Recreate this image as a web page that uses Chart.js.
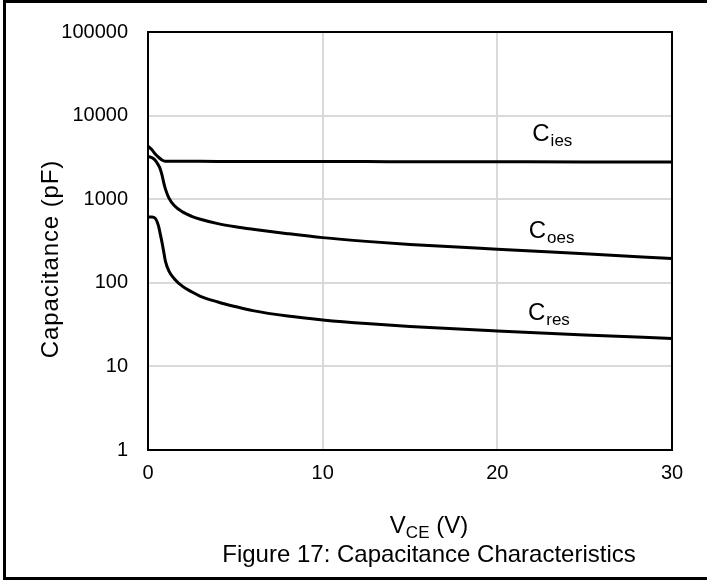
<!DOCTYPE html>
<html>
<head>
<meta charset="utf-8">
<script src="https://cdn.jsdelivr.net/npm/chart.js@4"></script>
<style>
  html, body { margin: 0; padding: 0; background: #fff; }
  #wrap { width: 707px; height: 580px; }
</style>
</head>
<body>
<div id="wrap"><canvas id="capChart" width="707" height="580"></canvas></div>
<script>
// Datos (V_CE en voltios, capacidad en pF)
const vce  = [0, 0.2, 0.4, 0.6, 0.7, 0.8, 0.9, 1.0, 1.2, 1.5, 2, 2.5, 3, 4, 5, 6, 8, 10, 12.5, 15, 20, 25, 30];
const cies = [4300, 3950, 3500, 3180, 3050, 2950, 2880, 2850, 2840, 2840, 2840, 2838, 2836, 2832, 2830, 2828, 2824, 2820, 2815, 2810, 2800, 2790, 2780];
const coes = [3250, 3150, 2950, 2550, 2300, 1950, 1580, 1320, 1030, 840, 700, 625, 575, 510, 468, 437, 387, 347, 313, 288, 252, 222, 195];
const cres = [615, 612, 595, 480, 385, 305, 235, 180, 138, 112, 90, 78, 69, 59, 52, 46.5, 40, 36, 32.5, 30, 26.5, 23.8, 21.6];
const yTicks = [1, 10, 100, 1000, 10000, 100000];
const xTicks = [0, 10, 20, 30];

const FONT = '"Liberation Sans", Arial, sans-serif';

function serie(vals) {
  return vce.map((v, i) => ({ x: v, y: vals[i] }));
}

// Etiquetas de las curvas: posición en unidades del gráfico
const curveLabels = [
  { sub: 'ies', x: 22.0, y: 4970 },
  { sub: 'oes', x: 21.8, y: 343 },
  { sub: 'res', x: 21.75, y: 35.9 }
];

const extras = {
  id: 'extras',
  afterDraw(chart) {
    const ctx = chart.ctx;
    const a = chart.chartArea;
    const xs = chart.scales.x, ys = chart.scales.y;
    ctx.save();
    // marco del área de trazado
    ctx.strokeStyle = '#000';
    ctx.lineWidth = 2;
    ctx.strokeRect(a.left, a.top, a.right - a.left, a.bottom - a.top);

    ctx.fillStyle = '#000';
    ctx.textBaseline = 'alphabetic';
    ctx.textAlign = 'left';

    // C_ies, C_oes, C_res
    curveLabels.forEach(l => {
      const px = xs.getPixelForValue(l.x);
      const py = ys.getPixelForValue(l.y);
      ctx.font = '24px ' + FONT;
      ctx.fillText('C', px, py);
      const w = ctx.measureText('C').width;
      ctx.font = '17px ' + FONT;
      ctx.fillText(l.sub, px + w + 1, py + 5);
    });

    // título eje X: V_CE (V)
    const cx = 429;
    ctx.font = '24px ' + FONT;
    const wV = ctx.measureText('V').width;
    const wRest = ctx.measureText(' (V)').width;
    ctx.font = '17px ' + FONT;
    const wSub = ctx.measureText('CE').width;
    let sx = cx - (wV + wSub + wRest) / 2;
    ctx.font = '24px ' + FONT;
    ctx.fillText('V', sx, 533);
    ctx.font = '17px ' + FONT;
    ctx.fillText('CE', sx + wV, 538);
    ctx.font = '24px ' + FONT;
    ctx.fillText(' (V)', sx + wV + wSub, 533);

    // pie de figura
    ctx.textAlign = 'center';
    ctx.fillText('Figure 17: Capacitance Characteristics', cx, 562);

    // título eje Y
    ctx.translate(58, 259);
    ctx.rotate(-Math.PI / 2);
    ctx.letterSpacing = '0.9px';
    ctx.fillText('Capacitance (pF)', 0, 0);
    ctx.restore();

    // borde exterior
    ctx.save();
    ctx.fillStyle = '#000';
    ctx.fillRect(3, 0, 704, 3);
    ctx.fillRect(3, 0, 3, 580);
    ctx.fillRect(3, 577, 704, 3);
    ctx.restore();
  }
};

new Chart(document.getElementById('capChart').getContext('2d'), {
  type: 'line',
  data: {
    datasets: [
      { label: 'Cies', data: serie(cies) },
      { label: 'Coes', data: serie(coes) },
      { label: 'Cres', data: serie(cres) }
    ].map(d => Object.assign(d, {
      borderColor: '#000',
      borderWidth: 3,
      pointRadius: 0,
      fill: false,
      cubicInterpolationMode: 'monotone'
    }))
  },
  options: {
    responsive: false,
    devicePixelRatio: 1,
    animation: false,
    layout: { padding: { left: 0, top: 32, right: 35, bottom: 0 } },
    plugins: {
      legend: { display: false },
      tooltip: { enabled: false }
    },
    scales: {
      x: {
        type: 'linear',
        min: 0,
        max: 30,
        afterBuildTicks: s => { s.ticks = xTicks.map(v => ({ value: v })); },
        afterFit: s => { s.height = 130; },
        grid: { color: '#d9d9d9', lineWidth: 2, drawTicks: false },
        border: { display: false },
        ticks: { color: '#000', padding: 11, font: { family: FONT, size: 20 } }
      },
      y: {
        type: 'logarithmic',
        min: 1,
        max: 100000,
        afterBuildTicks: s => { s.ticks = yTicks.map(v => ({ value: v })); },
        afterFit: s => { s.width = 148; },
        grid: { color: '#d9d9d9', lineWidth: 2, drawTicks: false },
        border: { display: false },
        ticks: {
          color: '#000',
          padding: 20,
          font: { family: FONT, size: 20 },
          callback: v => String(v)
        }
      }
    }
  },
  plugins: [extras]
});
</script>
</body>
</html>
